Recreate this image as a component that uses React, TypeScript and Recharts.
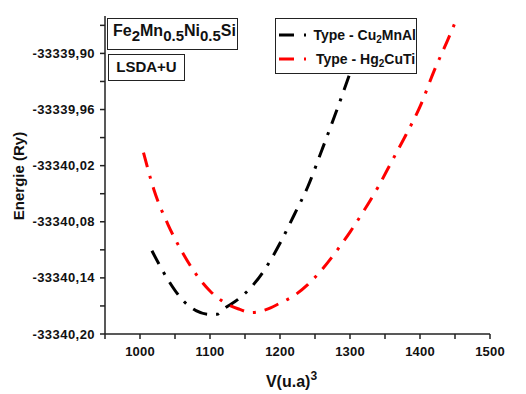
import React from 'react';
import { LineChart, Line, XAxis, YAxis, Legend } from 'recharts';

const volumesCu2MnAl = [1017, 1040, 1060, 1080, 1100, 1110, 1120, 1140, 1160, 1180, 1200, 1220, 1240, 1260, 1280, 1300];
const energyCu2MnAl = [-33340.111, -33340.142, -33340.163, -33340.175, -33340.179, -33340.179, -33340.173, -33340.163, -33340.149, -33340.129, -33340.103, -33340.073, -33340.042, -33340.003, -33339.963, -33339.921];

const volumesHg2CuTi = [1005, 1020, 1040, 1060, 1080, 1100, 1120, 1140, 1160, 1180, 1200, 1220, 1240, 1260, 1280, 1300, 1320, 1340, 1360, 1380, 1400, 1420, 1440, 1449];
const energyHg2CuTi = [-33340.006, -33340.046, -33340.083, -33340.112, -33340.136, -33340.154, -33340.166, -33340.173, -33340.177, -33340.174, -33340.167, -33340.159, -33340.147, -33340.131, -33340.112, -33340.091, -33340.068, -33340.043, -33340.015, -33339.987, -33339.957, -33339.919, -33339.885, -33339.869];

const seriesNames = ['Type - Cu2MnAl', 'Type - Hg2CuTi'];
const seriesColors = ['#000000', '#ff0000'];

const xTicks = [950, 1000, 1050, 1100, 1150, 1200, 1250, 1300, 1350, 1400, 1450, 1500];
const xMajorTicks = [1000, 1100, 1200, 1300, 1400, 1500];
const yTicks = [-33340.2, -33340.17, -33340.14, -33340.11, -33340.08, -33340.05, -33340.02, -33339.99, -33339.96, -33339.93, -33339.9, -33339.87];
const yMajorTicks = [-33340.2, -33340.14, -33340.08, -33340.02, -33339.96, -33339.9];

const titleText = 'Fe2Mn0.5Ni0.5Si';
const methodText = 'LSDA+U';
const xLabel = 'V(u.a)';
const yLabel = 'Energie (Ry)';

const cuData = volumesCu2MnAl.map((v, i) => ({ v, e: energyCu2MnAl[i] }));
const hgData = volumesHg2CuTi.map((v, i) => ({ v, e: energyHg2CuTi[i] }));

const FONT = '"Liberation Sans", Arial, sans-serif';
const DASH = '15 9 3 9';

const isMajor = (v: number, list: number[]) => list.some((m) => Math.abs(m - v) < 1e-6);

const formula = (s: string, subSize: string) => {
  const parts = s.split(/(\d+(?:\.\d+)?)/);
  return parts.map((p, i) =>
    i % 2 === 1 ? (
      <sub key={i} style={{ fontSize: subSize, verticalAlign: 'baseline', position: 'relative', top: '0.3em' }}>{p}</sub>
    ) : (
      <span key={i}>{p}</span>
    )
  );
};

const XTick = (props: any) => {
  const { x, y, payload } = props;
  if (!isMajor(payload.value, xMajorTicks)) return <g />;
  return (
    <text x={x} y={y} dy={15} textAnchor="middle" fontFamily={FONT} fontWeight="bold" fontSize={13} fill="#111" letterSpacing={0.2}>
      {payload.value}
    </text>
  );
};

const YTick = (props: any) => {
  const { x, y, payload } = props;
  if (!isMajor(payload.value, yMajorTicks)) return <g />;
  return (
    <text x={x} y={y} dy={4.5} textAnchor="end" fontFamily={FONT} fontWeight="bold" fontSize={13} fill="#111" letterSpacing={0.45}>
      {payload.value.toFixed(2).replace('.', ',')}
    </text>
  );
};

const renderLegend = (props: any) => {
  const { payload } = props;
  return (
    <div
      style={{
        border: '1.5px solid #222',
        background: '#fff',
        width: 142,
        height: 56,
        boxSizing: 'border-box',
        padding: '4px 0 0 3px',
        fontFamily: FONT,
        fontWeight: 'bold',
        fontSize: 14,
        color: '#111',
      }}
    >
      {(payload || []).map((entry: any, i: number) => (
        <div key={i} style={{ display: 'flex', alignItems: 'center', height: 24, whiteSpace: 'nowrap' }}>
          <svg width={33} height={10} style={{ marginRight: 4 }}>
            <line x1={0} y1={5} x2={33} y2={5} stroke={entry.color} strokeWidth={3} strokeDasharray="15 10 2 10" />
          </svg>
          <span>{formula(entry.value, '10px')}</span>
        </div>
      ))}
    </div>
  );
};

export default function App() {
  return (
    <div style={{ position: 'absolute', left: 0, top: 0, width: 526, height: 394, background: '#fff' }}>
      <LineChart width={526} height={394} margin={{ top: 16, right: 36, bottom: 0, left: 0 }}>
        <XAxis
          dataKey="v"
          type="number"
          domain={[950, 1500]}
          ticks={xTicks}
          interval={0}
          allowDataOverflow
          height={60}
          tickSize={5}
          tick={XTick}
          stroke="#222"
          strokeWidth={1.5}
          label={{
            content: (p: any) => {
              const vb = p.viewBox;
              const cx = vb.x + vb.width / 2 - 6;
              return (
                <text x={cx} y={vb.y + 53} textAnchor="middle" fontFamily={FONT} fontWeight="bold" fontSize={16} fill="#111">
                  {xLabel}
                  <tspan dy={-7} fontSize={12}>3</tspan>
                </text>
              );
            },
          }}
        />
        <XAxis xAxisId="top" orientation="top" type="number" domain={[950, 1500]} height={0} tick={false} tickLine={false} stroke="#222" strokeWidth={1.5} />
        <YAxis
          type="number"
          domain={[-33340.2, -33339.86]}
          ticks={yTicks}
          interval={0}
          allowDataOverflow
          width={105}
          tickSize={5}
          tickMargin={5}
          tick={YTick}
          stroke="#222"
          strokeWidth={1.5}
          label={{
            content: (p: any) => {
              const vb = p.viewBox;
              const cx = vb.x + 24;
              const cy = vb.y + vb.height / 2 + 1;
              return (
                <text x={cx} y={cy} transform={`rotate(-90 ${cx} ${cy})`} textAnchor="middle" fontFamily={FONT} fontWeight="bold" fontSize={15} fill="#111">
                  {yLabel}
                </text>
              );
            },
          }}
        />
        <YAxis yAxisId="right" orientation="right" type="number" domain={[-33340.2, -33339.86]} width={0} tick={false} tickLine={false} stroke="#222" strokeWidth={1.5} />
        <Line
          data={cuData}
          dataKey="e"
          name={seriesNames[0]}
          stroke={seriesColors[0]}
          strokeWidth={3}
          strokeDasharray={DASH}
          type="monotone"
          dot={false}
          isAnimationActive={false}
        />
        <Line
          data={hgData}
          dataKey="e"
          name={seriesNames[1]}
          stroke={seriesColors[1]}
          strokeWidth={3}
          strokeDasharray={DASH}
          type="monotone"
          dot={false}
          isAnimationActive={false}
        />
        <Legend
          layout="vertical"
          align="center"
          verticalAlign="middle"
          wrapperStyle={{ left: 275, top: 18, width: 'auto', zIndex: 10 }}
          content={renderLegend}
        />
      </LineChart>
      <div
        style={{
          position: 'absolute',
          left: 107,
          top: 18,
          width: 131,
          height: 32,
          boxSizing: 'border-box',
          border: '1.5px solid #222',
          background: '#fff',
          fontFamily: FONT,
          fontWeight: 'bold',
          fontSize: 16,
          paddingLeft: 5,
          lineHeight: '24px',
          whiteSpace: 'nowrap',
          color: '#111',
          zIndex: 10,
        }}
      >
        {formula(titleText, '15px')}
      </div>
      <div
        style={{
          position: 'absolute',
          left: 108,
          top: 54,
          width: 77,
          height: 27,
          boxSizing: 'border-box',
          border: '1.5px solid #222',
          background: '#fff',
          fontFamily: FONT,
          fontWeight: 'bold',
          fontSize: 15,
          textAlign: 'center',
          lineHeight: '24px',
          color: '#111',
          zIndex: 10,
        }}
      >
        {methodText}
      </div>
    </div>
  );
}
